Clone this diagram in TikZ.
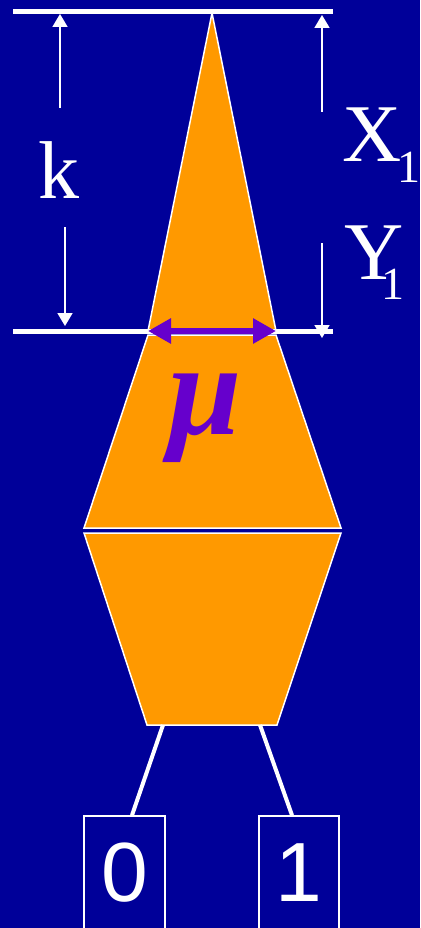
\documentclass[tikz,border=0pt]{standalone}
\usepackage{fontspec}
\setmainfont{Liberation Serif}
\newfontfamily\arialf{Liberation Sans}
\usetikzlibrary{arrows.meta}
\definecolor{bgblue}{HTML}{000099}
\definecolor{orng}{HTML}{FF9900}
\definecolor{purp}{HTML}{6600CC}
\begin{document}
\begin{tikzpicture}[x=1pt,y=-1pt,
  shapefill/.style={fill=orng,draw=white,line width=1.5pt,line join=miter},
  rule/.style={draw=white,line width=5pt},
  dimarrow/.style={draw=white,line width=1.8pt,-{Triangle[length=13pt,width=15pt]}},
  lbl/.style={text=white,font=\fontsize{82}{82}\selectfont,inner sep=0pt},
  sublbl/.style={text=white,font=\fontsize{46}{46}\selectfont,inner sep=0pt},
  digitbox/.style={draw=white,line width=1.5pt,fill=bgblue,text=white,inner sep=0pt,
    font=\arialf\fontsize{84}{84}\selectfont,minimum height=114pt},
  wire/.style={draw=white,line width=4pt}]
\fill[bgblue] (0,0) rectangle (420,928);
\useasboundingbox (0,0) rectangle (420,928);
% shapes
\path[shapefill] (212,13) -- (276,331) -- (148,331) -- cycle;
\path[shapefill] (148,335) -- (276,335) -- (341,528) -- (84,528) -- cycle;
\path[shapefill] (84,533) -- (341,533) -- (277,725) -- (147,725) -- cycle;
% rules
\coordinate (topL) at (13,12);
\coordinate (topR) at (333,12);
\coordinate (botL) at (13,331);
\coordinate (botR) at (333,331);
\draw[rule] (topL) -- (topR);
\draw[rule] (botL) -- (botR);
% width arrow
\coordinate (wL) at (148,331);
\coordinate (wR) at (276,331);
\draw[purp,line width=6pt,{Triangle[length=23pt,width=24pt]}-{Triangle[length=23pt,width=24pt]}] (wL) -- (wR);
% dimension arrows
\node[lbl] (k) at (59,170) {k};
\coordinate (kupS) at (60,108);
\coordinate (kupE) at (60,14);
\coordinate (kdnS) at (65,227);
\coordinate (kdnE) at (65,326);
\draw[dimarrow] (kupS) -- (kupE);
\draw[dimarrow] (kdnS) -- (kdnE);
\coordinate (rupS) at (322,112);
\coordinate (rupE) at (322,15);
\coordinate (rdnS) at (322,243);
\coordinate (rdnE) at (322,338);
\draw[dimarrow] (rupS) -- (rupE);
\draw[dimarrow] (rdnS) -- (rdnE);
\node[lbl] (X) at (372,135) {X};
\node[sublbl] (Xs) at (409,167) {1};
\node[lbl] (Y) at (374,253) {Y};
\node[sublbl] (Ys) at (393,284) {1};
% mu
\node[text=purp,inner sep=0pt,font=\fontsize{132}{132}\selectfont\bfseries\itshape] (mu) at (205,418) {μ};
% output boxes
\node[digitbox,minimum width=81pt] (b0) at (124.5,873) {0};
\node[digitbox,minimum width=80pt] (b1) at (299,873) {1};
\coordinate (t0) at (163,725);
\coordinate (t1) at (260,725);
\draw[wire] (t0) -- ([xshift=7.5pt]b0.north);
\draw[wire] (t1) -- ([xshift=-7pt]b1.north);
\end{tikzpicture}
\end{document}
